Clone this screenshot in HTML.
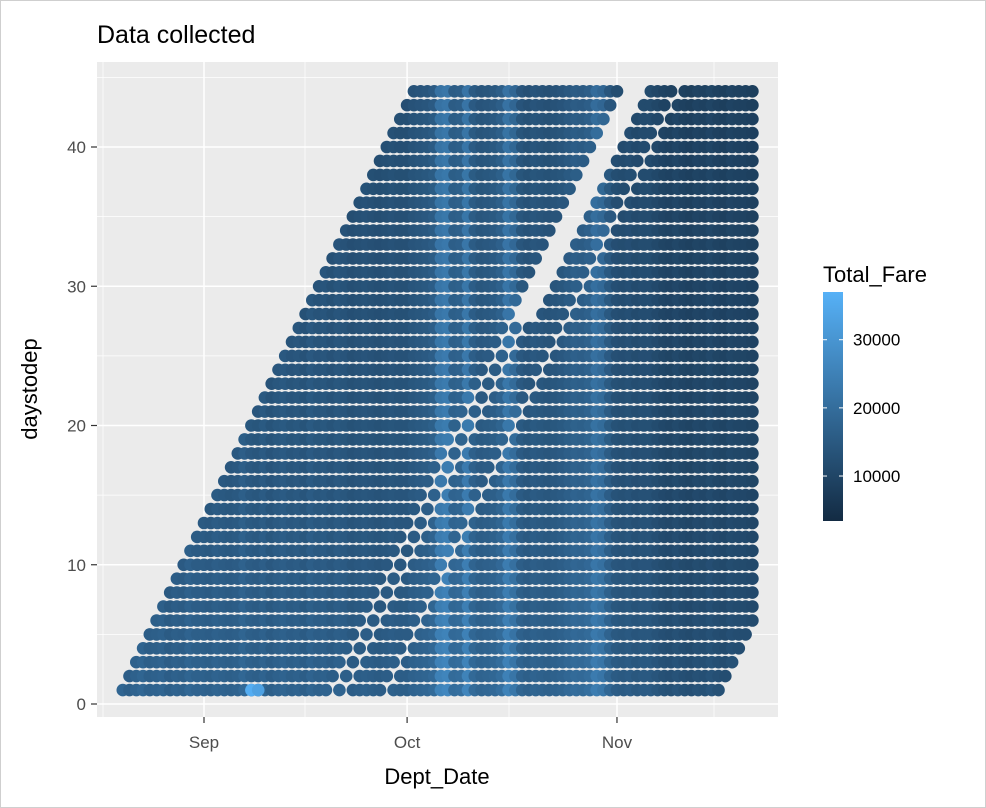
<!DOCTYPE html>
<html><head><meta charset="utf-8"><style>
html,body{margin:0;padding:0;background:#fff;}
svg{display:block;font-family:"Liberation Sans",sans-serif;}
</style></head><body>
<svg id="chart" width="986" height="808" viewBox="0 0 986 808">
<defs><linearGradient id="fg" x1="0" y1="1" x2="0" y2="0">
<stop offset="0" stop-color="#132B43"/><stop offset="1" stop-color="#56B1F7"/></linearGradient>
<clipPath id="pc"><rect x="97" y="62" width="681" height="655"/></clipPath></defs>
<rect x="0.5" y="0.5" width="985" height="807" fill="#fff" stroke="#cfcfcf"/>
<text x="97" y="43" font-size="25" fill="#000">Data collected</text>
<rect x="97" y="62" width="681" height="655" fill="#EBEBEB"/>
<g id="grid"></g>
<g id="pts" clip-path="url(#pc)"></g>
<g id="axes"></g>
<text x="437" y="784" font-size="22" text-anchor="middle">Dept_Date</text>
<text transform="translate(37,389) rotate(-90)" font-size="22" text-anchor="middle">daystodep</text>
<g>
<text x="823" y="282" font-size="22">Total_Fare</text>
<rect x="823" y="292" width="20" height="229" fill="url(#fg)"/>
<g id="leg"></g>
</g>
</svg>
<script>
// Data: departure day index relative to Sep 1 (day 0), days-to-departure rows
const yTicks = [0, 10, 20, 30, 40];
const xTickLabels = ["Sep", "Oct", "Nov"];
const xTickDays = [0, 30, 61];
const legendTicks = [10000, 20000, 30000];
const collectionRanges = [[-13, 17], [22, 25], [27, 75]];
const sparseCollection = [19, 21];
const sparseMaxK = 27;
const maxDeptDay = 81;
const maxK = 44;
// fare by departure day, from day -13 (Aug 19) to day 81 (Nov 20)
const fareByDate = [13500,14500,13000,14000,15000,13500,14000,14500,13000,14000,13500,15000,14000,
 14000,13500,14500,14000,13500,14000,15500,14000,13500,14500,
 13000,14000,14500,13500,14000,13000,14500,13500,14000,13000,
 14000,13500,12500,13000,13500,13000,12500,13000,13500,13000,
 13000,14000,14500,15000,16000,22000,23000,16500,17000,22500,
 16000,14500,15000,15500,17000,22000,19000,14500,13500,14500,
 14000,13500,14000,14500,15500,16500,16000,17000,20500,19000,
 15000,12500,12000,12500,11500,12000,12000,11000,10000,9500,
 10500,9500,9000,10000,9500,10500,9500,9000,10000,9500,9500,9000];
// fare offset by days-to-departure (k = 1..44)
const fareByK = [3500,3000,3000,2500,2500,2500,2000,2000,2000,1800,1500,1500,1200,1000,1000,800,800,
 800,600,600,500,500,400,300,300,200,200,0,0,0,0,-200,-200,-200,-300,-300,-400,-400,-500,-500,-600,-600,-700,-700];
const outlierDays = [7, 8];
const outlierK = [1, 1];
const outlierFare = [36000, 33000];

const FMIN = 3400, FMAX = 37000;
function xs(d){ return 204 + d * 6.77; }
function ys(k){ return 704 - k * 13.925; }
function col(f){
  let t = Math.max(0, Math.min(1, (f - FMIN) / (FMAX - FMIN)));
  const a=[19,43,67], b=[86,177,247];
  return 'rgb(' + a.map((v,i)=>Math.round(v+(b[i]-v)*t)).join(',') + ')';
}
function legY(f){ return 521 - (f - FMIN) / (FMAX - FMIN) * 229; }
const NS = 'http://www.w3.org/2000/svg';
function mk(tag, attrs, parent){
  const e = document.createElementNS(NS, tag);
  for (const k in attrs) e.setAttribute(k, attrs[k]);
  parent.appendChild(e); return e;
}
const grid = document.getElementById('grid');
[103, 305, 509, 714].forEach(x=>{
  const l = mk('line',{x1:x,x2:x,y1:62,y2:717,stroke:'#fff','stroke-width':0.7},grid);
  
  
});
yTicks.forEach(v=>{
  const l = mk('line',{x1:97,x2:778,y1:ys(v+5),y2:ys(v+5),stroke:'#fff','stroke-width':0.7},grid);
  
  
});
yTicks.forEach(v=>{
  const l = mk('line',{x1:97,x2:778,y1:ys(v),y2:ys(v),stroke:'#fff','stroke-width':1.5},grid);
  
  
});
xTickDays.forEach(d=>{
  const l = mk('line',{x1:xs(d),x2:xs(d),y1:62,y2:717,stroke:'#fff','stroke-width':1.5},grid);
  
  
});
const pts = document.getElementById('pts');
function fareAt(d,k){
  const i = d + 13;
  const base = fareByDate[Math.max(0, Math.min(fareByDate.length-1, i))];
  return base + fareByK[k-1];
}
function dot(d,k,f){
  const c = mk('circle',{cx:xs(d).toFixed(1),cy:ys(k).toFixed(1),r:6.3,fill:col(f)},pts);
  
  
}
for (let k = 1; k <= maxK; k++){
  const cs = [];
  collectionRanges.forEach(r=>{ for(let c=r[0]; c<=r[1]; c++) cs.push(c); });
  if (k <= sparseMaxK) sparseCollection.forEach(c=>cs.push(c));
  cs.sort((a,b)=>a-b);
  cs.forEach(c=>{
    const d = c + k;
    if (d > maxDeptDay) return;
    dot(d, k, fareAt(d,k));
  });
}
outlierDays.forEach((d,i)=>dot(d, outlierK[i], outlierFare[i]));
const ax = document.getElementById('axes');
yTicks.forEach(v=>{
  const t = mk('line',{x1:91,x2:97,y1:ys(v),y2:ys(v),stroke:'#333','stroke-width':1.2},ax);
  
  
  const tx = mk('text',{x:86,y:ys(v)+6,'font-size':17,'text-anchor':'end',fill:'#4D4D4D'},ax);
  tx.textContent = v;
  
  
});
xTickDays.forEach((d,i)=>{
  const t = mk('line',{x1:xs(d),x2:xs(d),y1:717,y2:723,stroke:'#333','stroke-width':1.2},ax);
  
  
  const tx = mk('text',{x:xs(d),y:748,'font-size':17,'text-anchor':'middle',fill:'#4D4D4D'},ax);
  tx.textContent = xTickLabels[i];
  
  
});
const leg = document.getElementById('leg');
legendTicks.forEach(v=>{
  const y = legY(v);
  const a = mk('line',{x1:823,x2:827,y1:y,y2:y,stroke:'#fff','stroke-width':1},leg);
  
  
  const b = mk('line',{x1:839,x2:843,y1:y,y2:y,stroke:'#fff','stroke-width':1},leg);
  
  
  const tx = mk('text',{x:853,y:y+6,'font-size':17,fill:'#000'},leg);
  tx.textContent = v;
  
  
});
</script>
</body></html>
